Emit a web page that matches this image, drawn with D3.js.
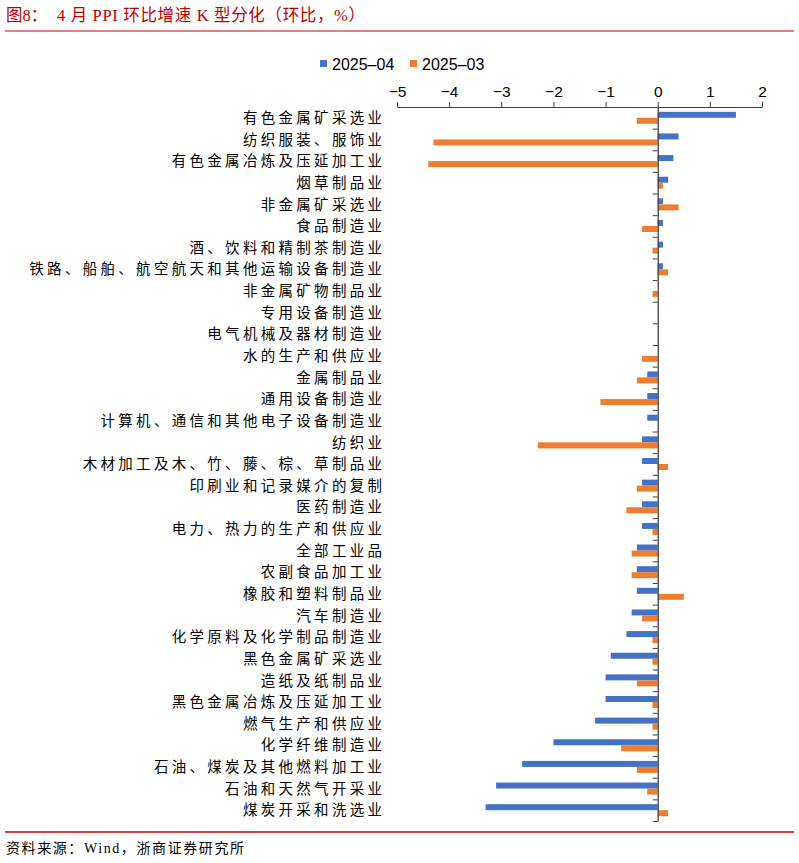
<!DOCTYPE html>
<html><head><meta charset="utf-8">
<script src="https://cdn.jsdelivr.net/npm/d3@7"></script>
<style>
html,body{margin:0;padding:0;background:#fff;}
svg{display:block;}
</style></head>
<body>
<svg id="chart" width="799" height="863"></svg>
<script>
const categories = [
  "有色金属矿采选业","纺织服装、服饰业","有色金属冶炼及压延加工业","烟草制品业","非金属矿采选业",
  "食品制造业","酒、饮料和精制茶制造业","铁路、船舶、航空航天和其他运输设备制造业","非金属矿物制品业",
  "专用设备制造业","电气机械及器材制造业","水的生产和供应业","金属制品业","通用设备制造业",
  "计算机、通信和其他电子设备制造业","纺织业","木材加工及木、竹、藤、棕、草制品业","印刷业和记录媒介的复制",
  "医药制造业","电力、热力的生产和供应业","全部工业品","农副食品加工业","橡胶和塑料制品业","汽车制造业",
  "化学原料及化学制品制造业","黑色金属矿采选业","造纸及纸制品业","黑色金属冶炼及压延加工业",
  "燃气生产和供应业","化学纤维制造业","石油、煤炭及其他燃料加工业","石油和天然气开采业","煤炭开采和洗选业"
];
const seriesNames = ["2025-04","2025-03"];
const apr2025 = [1.5,0.4,0.3,0.2,0.1,0.1,0.1,0.1,0,0,0,0,-0.2,-0.2,-0.2,-0.3,-0.3,-0.3,-0.3,-0.3,-0.4,-0.4,-0.4,-0.5,-0.6,-0.9,-1.0,-1.0,-1.2,-2.0,-2.6,-3.1,-3.3];
const mar2025 = [-0.4,-4.3,-4.4,0.1,0.4,-0.3,-0.1,0.2,-0.1,0,0,-0.3,-0.4,-1.1,0,-2.3,0.2,-0.4,-0.6,-0.1,-0.5,-0.5,0.5,-0.3,-0.1,-0.1,-0.4,-0.1,-0.1,-0.7,-0.4,-0.2,0.2];
const xTicks = [-5,-4,-3,-2,-1,0,1,2];
const colors = ["#4472C4","#ED7D31"];
const titlePrefix = "图8：";
const titleText = "4 月 PPI 环比增速 K 型分化（环比，%）";
const sourceText = "资料来源：Wind，浙商证券研究所";

const svg = d3.select("#chart");
const L = 397, R = 762, T = 107, B = 821;
const x = d3.scaleLinear().domain([-5,2]).range([L,R]);
const y = d3.scaleBand().domain(categories).range([T,B]).paddingInner(0).paddingOuter(0);
const ys = d3.scaleBand().domain(seriesNames).range([0,y.bandwidth()]).paddingInner(0).paddingOuter(0.8);
const serif = "'Liberation Serif','Noto Sans CJK SC',serif";
const sans = "'Liberation Sans',Arial,sans-serif";

// title
svg.append("text").attr("x",6).attr("y",21).attr("fill","#C00000")
  .attr("font-family",serif).attr("font-size",16.5).text(titlePrefix);
svg.append("text").attr("x",57).attr("y",21).attr("fill","#C00000")
  .attr("font-family",serif).attr("font-size",16.5)
  .attr("textLength",308).attr("lengthAdjust","spacing").text(titleText);
svg.append("line").attr("x1",5).attr("x2",794).attr("y1",31).attr("y2",31)
  .attr("stroke","#D9575C").attr("stroke-width",1.5);

// legend
const lg = svg.append("g");
const legendX = [320,410];
seriesNames.forEach((s,i)=>{
  lg.append("rect").attr("x",legendX[i]).attr("y",60).attr("width",7).attr("height",7).attr("fill",colors[i]);
  lg.append("text").attr("x",legendX[i]+12).attr("y",69.5).attr("font-family",sans).attr("font-size",16)
    .attr("fill","#000").text(s.replace("-","\u2013"));
});

// bars
const data = [apr2025, mar2025];
const rows = svg.append("g");
categories.forEach((c,i)=>{
  data.forEach((arr,k)=>{
    const v = arr[i];
    if (v === 0) return;
    rows.append("rect")
      .attr("x", x(Math.min(0,v)))
      .attr("y", y(c) + ys(seriesNames[k]))
      .attr("width", Math.abs(x(v)-x(0)))
      .attr("height", ys.bandwidth())
      .attr("fill", colors[k]);
  });
});

// top value axis
const xAxis = svg.append("g").attr("transform",`translate(0,${T})`)
  .call(d3.axisTop(x).tickValues(xTicks).tickFormat(d3.format("d")).tickSize(5).tickSizeOuter(0).tickPadding(5));
xAxis.select(".domain").attr("stroke","#404040");
xAxis.selectAll(".tick line").attr("stroke","#404040");
xAxis.selectAll(".tick text").attr("font-family",sans).attr("font-size",15.5).attr("fill","#000");

// category axis at zero (ticks between categories)
const idx = d3.scaleLinear().domain([0,categories.length]).range([T,B]);
const yAxis = svg.append("g").attr("transform",`translate(${x(0)},0)`)
  .call(d3.axisLeft(idx).tickValues(d3.range(categories.length+1)).tickSize(5).tickSizeOuter(0).tickFormat(""));
yAxis.select(".domain").attr("stroke","#404040").attr("stroke-width",1.3);
yAxis.selectAll(".tick line").attr("stroke","#404040");

// category labels
const ls = 3.3;
svg.append("g").selectAll("text").data(categories).join("text")
  .attr("x", 382 + ls)
  .attr("y", d => y(d) + y.bandwidth()/2)
  .attr("dy","0.36em")
  .attr("text-anchor","end")
  .attr("font-family",serif).attr("font-size",14.5)
  .attr("letter-spacing",ls)
  .attr("fill","#000")
  .text(d=>d);

// footer
svg.append("line").attr("x1",5).attr("x2",794).attr("y1",832).attr("y2",832)
  .attr("stroke","#C00000").attr("stroke-width",1.3);
svg.append("text").attr("x",6).attr("y",853).attr("fill","#000")
  .attr("font-family",serif).attr("font-size",14)
  .attr("textLength",238).attr("lengthAdjust","spacing").text(sourceText);
</script>
</body></html>
